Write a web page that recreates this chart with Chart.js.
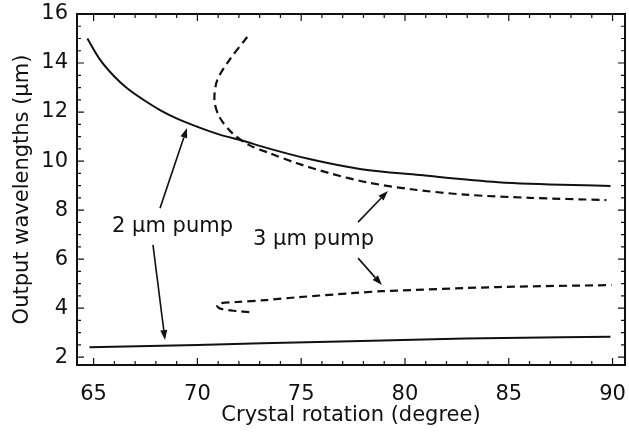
<!DOCTYPE html>
<html>
<head>
<meta charset="utf-8">
<script src="https://cdn.jsdelivr.net/npm/chart.js@4"></script>
<style>
  body { margin: 0; background: #fff; }
  #wrap { width: 629px; height: 439px; }
</style>
</head>
<body>
<div id="wrap"><canvas id="myChart" width="629" height="439"></canvas></div>
<script>
// tick labels
const xTicks = [65, 70, 75, 80, 85, 90];
const yTicks = [2, 4, 6, 8, 10, 12, 14, 16];

// 2 um pump, upper branch (solid)
const pump2HighX = [64.7, 65.3, 66.0, 66.6, 67.4, 68.2, 69.1, 70.0, 71.0, 72.4, 73.0, 75.5, 77.9, 80.7, 84.5, 89.9];
const pump2HighY = [15.0, 14.15, 13.45, 12.98, 12.5, 12.08, 11.7, 11.4, 11.1, 10.78, 10.62, 10.06, 9.67, 9.43, 9.14, 8.98];
// 2 um pump, lower branch (solid)
const pump2LowX = [64.8, 70.0, 75.8, 82.9, 89.9];
const pump2LowY = [2.40, 2.50, 2.62, 2.76, 2.83];

// 3 um pump, upper branch (dashed)
const pump3HighX = [72.4, 71.54, 70.96, 70.82, 71.06, 71.68, 72.5, 73.46, 74.76, 76.35, 78.13, 80.3, 82.9, 86.0, 89.7];
const pump3HighY = [15.06, 14.12, 13.31, 12.49, 11.8, 11.14, 10.65, 10.33, 9.92, 9.51, 9.14, 8.85, 8.63, 8.5, 8.41];
// 3 um pump, lower branch (dashed)
const pump3LowX = [72.5, 71.9, 71.1, 70.95, 71.1, 71.9, 73.3, 74.9, 77.45, 78.9, 84.5, 89.95];
const pump3LowY = [3.84, 3.88, 3.98, 4.1, 4.2, 4.25, 4.33, 4.45, 4.61, 4.69, 4.86, 4.94];

// annotations (data coordinates): [fromX, fromY, toX, toY]
const arrowLines = [
  [68.20, 8.08, 69.50, 11.35],
  [67.86, 6.58, 68.44, 2.70],
  [77.74, 7.51, 79.18, 8.78],
  [77.74, 6.04, 78.89, 4.94]
];
const labels = [
  { text: '2 \u00b5m pump', x: 65.89, y: 7.11 },
  { text: '3 \u00b5m pump', x: 72.68, y: 6.58 }
];

const FONT = 'DejaVu Sans';
const INK = '#111';

function toPoints(xs, ys) {
  return xs.map((x, i) => ({ x: x, y: ys[i] }));
}

function curve(xs, ys, dashed, monotone) {
  return {
    data: toPoints(xs, ys),
    showLine: true,
    borderColor: INK,
    borderWidth: dashed ? 2.2 : 2,
    borderDash: dashed ? [8, 5] : [],
    pointRadius: 0,
    tension: 0.3,
    cubicInterpolationMode: monotone ? 'monotone' : 'default',
    fill: false
  };
}

// frame with inward ticks on all four sides, arrows and labels
const framePlugin = {
  id: 'frame',
  afterDatasetsDraw(chart) {
    const ctx = chart.ctx;
    const a = chart.chartArea;
    const xs = chart.scales.x, ys = chart.scales.y;
    ctx.save();
    ctx.strokeStyle = INK;
    ctx.lineWidth = 2;
    ctx.strokeRect(a.left, a.top, a.right - a.left, a.bottom - a.top);

    ctx.lineWidth = 1.2;
    ctx.beginPath();
    for (let v = 65; v <= 90; v += 1) {
      const px = xs.getPixelForValue(v);
      const len = v % 5 === 0 ? 7 : 4;
      ctx.moveTo(px, a.bottom); ctx.lineTo(px, a.bottom - len);
      ctx.moveTo(px, a.top); ctx.lineTo(px, a.top + len);
    }
    for (let v = 2; v <= 16; v += 0.5) {
      const py = ys.getPixelForValue(v);
      const len = v % 2 === 0 ? 7 : 4;
      ctx.moveTo(a.left, py); ctx.lineTo(a.left + len, py);
      ctx.moveTo(a.right, py); ctx.lineTo(a.right - len, py);
    }
    ctx.stroke();

    ctx.fillStyle = INK;
    ctx.lineWidth = 1.6;
    arrowLines.forEach(l => {
      const x1 = xs.getPixelForValue(l[0]), y1 = ys.getPixelForValue(l[1]);
      const x2 = xs.getPixelForValue(l[2]), y2 = ys.getPixelForValue(l[3]);
      const ang = Math.atan2(y2 - y1, x2 - x1);
      const hl = 10, hw = 3.5;
      const bx = x2 - hl * Math.cos(ang), by = y2 - hl * Math.sin(ang);
      ctx.beginPath();
      ctx.moveTo(x1, y1); ctx.lineTo(bx, by);
      ctx.stroke();
      ctx.beginPath();
      ctx.moveTo(x2, y2);
      ctx.lineTo(bx + hw * Math.sin(ang), by - hw * Math.cos(ang));
      ctx.lineTo(bx - hw * Math.sin(ang), by + hw * Math.cos(ang));
      ctx.closePath();
      ctx.fill();
    });

    ctx.font = '21px "' + FONT + '"';
    ctx.textAlign = 'left';
    ctx.textBaseline = 'alphabetic';
    labels.forEach(t => {
      ctx.fillText(t.text, xs.getPixelForValue(t.x), ys.getPixelForValue(t.y));
    });
    ctx.restore();
  }
};

new Chart(document.getElementById('myChart'), {
  type: 'scatter',
  data: {
    datasets: [
      curve(pump2HighX, pump2HighY, false, true),
      curve(pump2LowX, pump2LowY, false, true),
      curve(pump3HighX, pump3HighY, true, false),
      curve(pump3LowX, pump3LowY, true, false)
    ]
  },
  options: {
    responsive: false,
    animation: false,
    layout: { padding: { top: 14, right: 4, left: 0, bottom: 0 } },
    plugins: { legend: { display: false }, tooltip: { enabled: false } },
    scales: {
      x: {
        type: 'linear',
        min: 64.2,
        max: 90.6,
        afterBuildTicks: s => { s.ticks = xTicks.map(v => ({ value: v })); },
        afterFit: s => { s.height = 74; s.paddingLeft = 0; s.paddingRight = 0; },
        grid: { display: false, drawTicks: false },
        border: { display: false },
        ticks: { color: INK, padding: 17, maxRotation: 0, font: { family: FONT, size: 21 } },
        title: {
          display: true,
          text: 'Crystal rotation (degree)',
          color: INK,
          padding: { top: 0, bottom: 11 },
          font: { family: FONT, size: 21 }
        }
      },
      y: {
        type: 'linear',
        min: 1.68,
        max: 16,
        afterBuildTicks: s => { s.ticks = yTicks.map(v => ({ value: v })); },
        afterFit: s => { s.width = 77; s.paddingTop = 0; s.paddingBottom = 0; },
        grid: { display: false, drawTicks: false },
        border: { display: false },
        ticks: { color: INK, padding: 9, font: { family: FONT, size: 21 } },
        title: {
          display: true,
          text: 'Output wavelengths (\u00b5m)',
          color: INK,
          padding: { top: 10, bottom: 0 },
          font: { family: FONT, size: 21 }
        }
      }
    }
  },
  plugins: [framePlugin]
});
</script>
</body>
</html>
